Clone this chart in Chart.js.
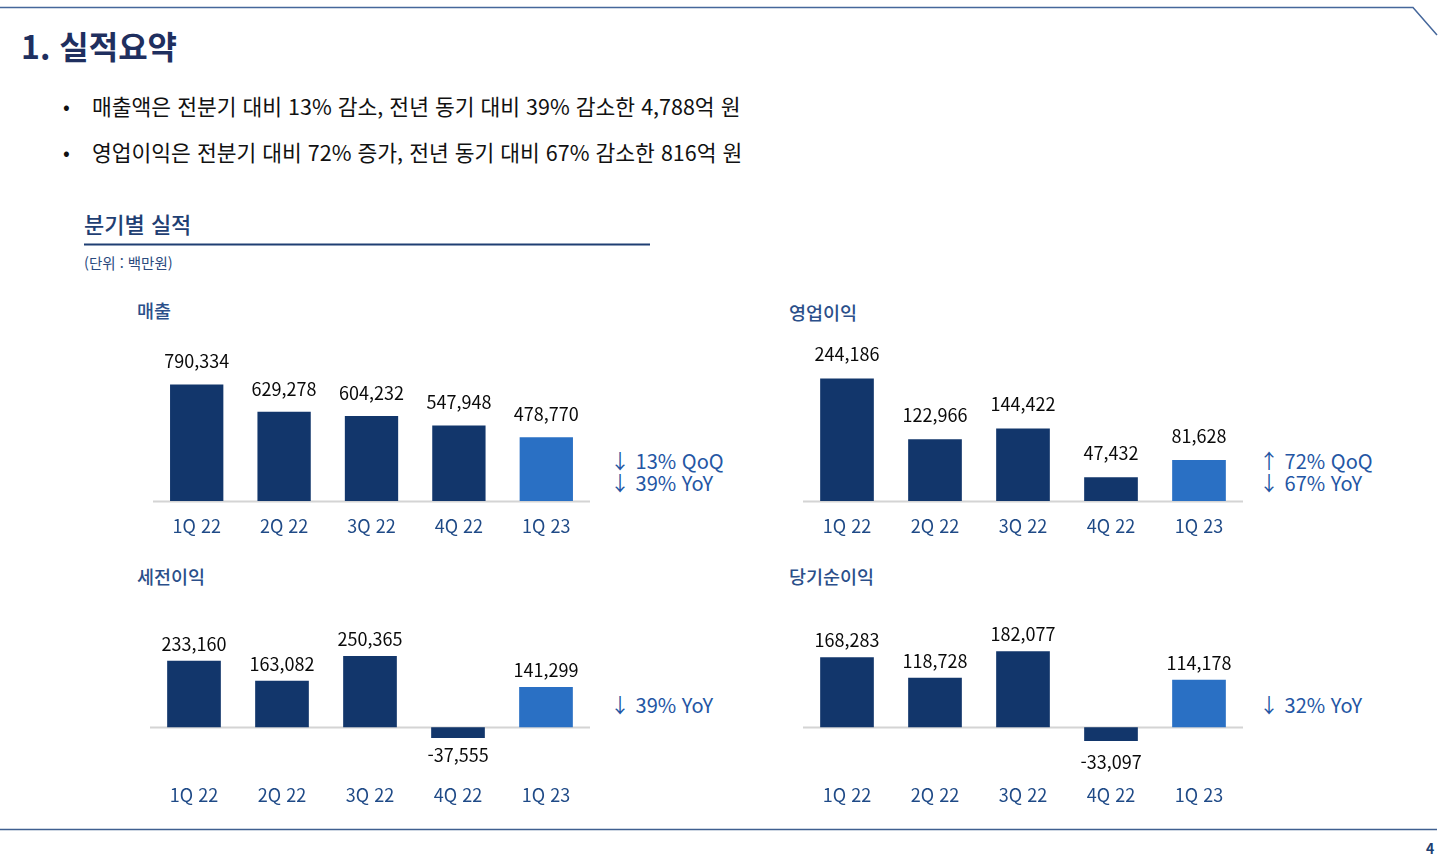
<!DOCTYPE html>
<html lang="ko">
<head>
<meta charset="utf-8">
<script src="https://cdn.jsdelivr.net/npm/chart.js@4.4.0/dist/chart.umd.min.js"></script>
<style>
  html, body { margin: 0; padding: 0; background: #fff; }
  body { width: 1446px; height: 861px; position: relative; overflow: hidden;
         font-family: "Noto Sans CJK KR", "Noto Sans", sans-serif; }
  .t { position: absolute; white-space: nowrap; line-height: 1; transform: translateY(-50%); }
  canvas { position: absolute; }
</style>
</head>
<body>
<svg width="1446" height="861" style="position:absolute;left:0;top:0">
  <polyline points="0,7.5 1413,7.5 1437,35" fill="none" stroke="#45679b" stroke-width="1.5"/>
  <line x1="0" y1="829.5" x2="1437" y2="829.5" stroke="#3f5f90" stroke-width="1.5"/>
  <line x1="84" y1="244.5" x2="650" y2="244.5" stroke="#1f3f73" stroke-width="2"/>
</svg>

<div class="t" style="left:21px;top:45px;font-size:32px;font-weight:700;color:#1f2f5f;">1. 실적요약</div>

<div class="t" style="left:63px;top:106px;font-size:20px;color:#111;">•</div>
<div class="t" style="left:92px;top:106px;font-size:21.5px;color:#111;">매출액은 전분기 대비 13% 감소, 전년 동기 대비 39% 감소한 4,788억 원</div>
<div class="t" style="left:63px;top:152px;font-size:20px;color:#111;">•</div>
<div class="t" style="left:92px;top:152px;font-size:21.5px;color:#111;">영업이익은 전분기 대비 72% 증가, 전년 동기 대비 67% 감소한 816억 원</div>

<div class="t" style="left:84px;top:223px;font-size:22px;font-weight:500;color:#1f3f73;">분기별 실적</div>
<div class="t" style="left:84px;top:263px;font-size:14.5px;color:#2a4a7e;">(단위 : 백만원)</div>

<div class="t" style="left:137px;top:310px;font-size:18.5px;font-weight:500;color:#2b4f8a;">매출</div>
<div class="t" style="left:789px;top:312px;font-size:18.5px;font-weight:500;color:#2b4f8a;">영업이익</div>
<div class="t" style="left:137px;top:576px;font-size:18.5px;font-weight:500;color:#2b4f8a;">세전이익</div>
<div class="t" style="left:789px;top:576px;font-size:18.5px;font-weight:500;color:#2b4f8a;">당기순이익</div>

<div class="t" style="left:610px;top:461px;font-size:20px;color:#2456a4;">↓ 13% QoQ</div>
<div class="t" style="left:610px;top:483px;font-size:20px;color:#2456a4;">↓ 39% YoY</div>
<div class="t" style="left:1259px;top:461px;font-size:20px;color:#2456a4;">↑ 72% QoQ</div>
<div class="t" style="left:1259px;top:483px;font-size:20px;color:#2456a4;">↓ 67% YoY</div>
<div class="t" style="left:610px;top:705px;font-size:20px;color:#2456a4;">↓ 39% YoY</div>
<div class="t" style="left:1259px;top:705px;font-size:20px;color:#2456a4;">↓ 32% YoY</div>

<div class="t" style="left:1426px;top:848px;font-size:14px;font-weight:700;color:#1f3f73;">4</div>

<canvas id="c1" width="437" height="211" style="left:153px;top:340px;"></canvas>
<canvas id="c2" width="440" height="211" style="left:803px;top:340px;"></canvas>
<canvas id="c3" width="440" height="200" style="left:150px;top:620px;"></canvas>
<canvas id="c4" width="440" height="200" style="left:803px;top:620px;"></canvas>

<script>
const quarters = ['1Q 22', '2Q 22', '3Q 22', '4Q 22', '1Q 23'];
const salesValues = [790334, 629278, 604232, 547948, 478770];
const opIncomeValues = [244186, 122966, 144422, 47432, 81628];
const pretaxValues = [233160, 163082, 250365, -37555, 141299];
const netIncomeValues = [168283, 118728, 182077, -33097, 114178];

const DARK = '#12366b';
const LIGHT = '#2a70c4';
const FONT = '"Noto Sans CJK KR", "Noto Sans", sans-serif';

const baselinePlugin = {
  id: 'baseline',
  beforeDatasetsDraw(chart) {
    const y = chart.scales.y;
    const area = chart.chartArea;
    const py = Math.round(y.getPixelForValue(y.getBaseValue())) + 0.5;
    const ctx = chart.ctx;
    ctx.save();
    ctx.strokeStyle = '#d4d4d4';
    ctx.lineWidth = 2;
    ctx.beginPath();
    ctx.moveTo(area.left, py);
    ctx.lineTo(area.right, py);
    ctx.stroke();
    ctx.restore();
  }
};

const valueLabelPlugin = {
  id: 'valueLabels',
  afterDatasetsDraw(chart, args, opts) {
    const ctx = chart.ctx;
    const meta = chart.getDatasetMeta(0);
    const data = chart.data.datasets[0].data;
    ctx.save();
    ctx.font = '18px ' + FONT;
    ctx.fillStyle = '#0a0a0a';
    ctx.textAlign = 'center';
    ctx.textBaseline = 'middle';
    meta.data.forEach((bar, i) => {
      const v = data[i];
      const txt = v.toLocaleString('en-US');
      const y = v >= 0 ? bar.y - opts.posOffset : bar.y + opts.negOffset;
      ctx.fillText(txt, bar.x, y);
    });
    ctx.restore();
  }
};

function makeChart(id, values, yMin, yMax, posOffset, negOffset) {
  const colors = values.map((v, i) => i === values.length - 1 ? LIGHT : DARK);
  return new Chart(document.getElementById(id), {
    type: 'bar',
    data: {
      labels: quarters,
      datasets: [{ data: values, backgroundColor: colors, borderWidth: 0,
                   barPercentage: 0.61, categoryPercentage: 1.0 }]
    },
    options: {
      responsive: false,
      animation: false,
      layout: { padding: 0 },
      plugins: {
        legend: { display: false },
        tooltip: { enabled: false },
        valueLabels: { posOffset, negOffset }
      },
      scales: {
        x: {
          grid: { display: false, drawTicks: false },
          border: { display: false },
          ticks: { color: '#1f4a87', padding: 14,
                   font: { family: FONT, size: 18, lineHeight: 1.2 } },
          afterFit(axis) { axis.height = 50; }
        },
        y: { display: false, min: yMin, max: yMax }
      }
    },
    plugins: [baselinePlugin, valueLabelPlugin]
  });
}

makeChart('c1', salesValues, 100000, 1054923, 23, 18);
makeChart('c2', opIncomeValues, 0, 320717, 24, 18);
makeChart('c3', pretaxValues, -149825, 376491, 17, 17);
makeChart('c4', netIncomeValues, -102398, 257314, 17, 21);
</script>
</body>
</html>
